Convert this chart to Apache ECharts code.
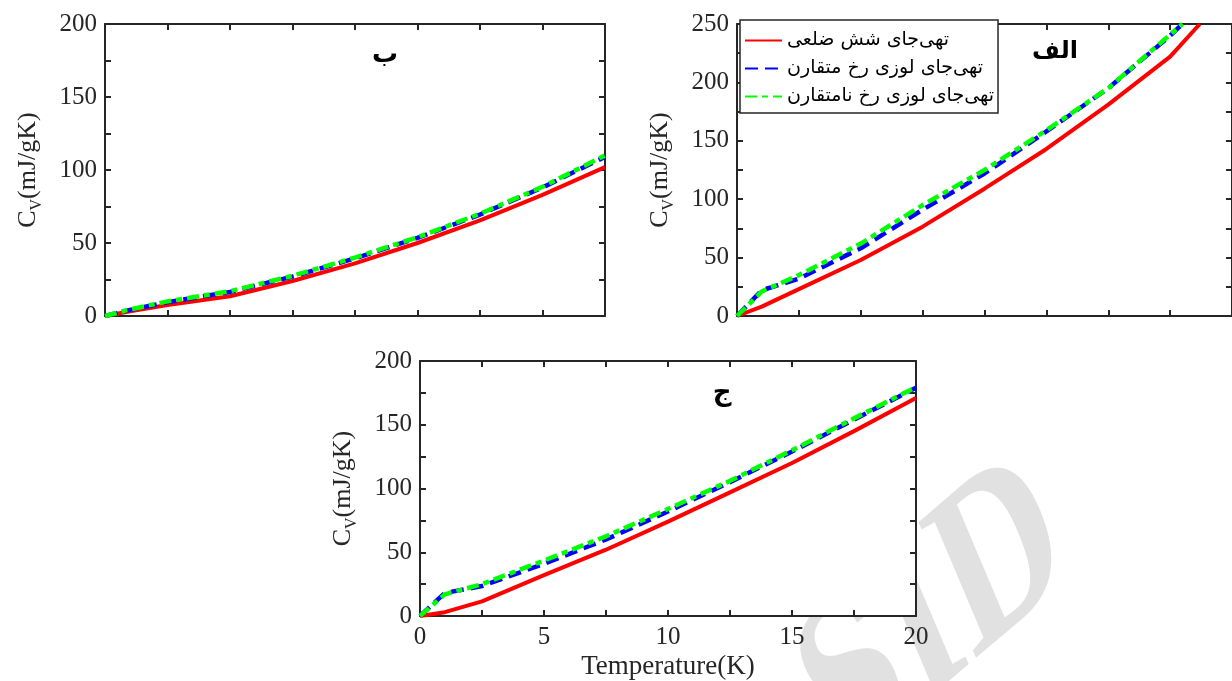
<!DOCTYPE html>
<html><head><meta charset="utf-8">
<script src="https://cdn.jsdelivr.net/npm/echarts@6/dist/echarts.min.js"></script>
<style>html,body{margin:0;padding:0;background:#fff}#c{width:1232px;height:681px}</style>
</head><body><div id="c"></div>
<script>
// ---- data ----
const seriesNames = ['تهی‌جای شش ضلعی', 'تهی‌جای لوزی رخ متقارن', 'تهی‌جای لوزی رخ نامتقارن'];
const panelLabels = ['ب', 'الف', 'ج'];
const xName = 'Temperature(K)';

// panel ب (top-left)
const tB = [0, 1, 2.5, 5, 7.5, 10, 12.5, 15, 17.5, 20];
const redB = [0, 3.2, 7.5, 13.5, 24, 36, 50, 65.5, 83, 102];
const blueB = [0, 4.2, 9.5, 16.5, 27, 39.5, 53.5, 69.5, 88, 109];
const greenB = [0, 4.5, 10, 17, 27.5, 40, 54, 70, 88.5, 110];

// panel الف (top-right)
const tARed = [0, 1, 2.5, 5, 7.5, 10, 12.5, 15, 17.5, 18.7];
const redA = [0, 8, 23, 48, 76.5, 109, 143, 181, 222, 250];
const tADash = [0, 1, 2.5, 5, 7.5, 10, 12.5, 15, 17.5, 18];
const blueA = [0, 22, 32, 58, 91, 122, 158, 195, 240, 250];
const greenA = [0, 21, 35, 62, 95, 125, 159, 195, 241, 250];

// panel ج (bottom)
const tC = [0, 1, 2.5, 5, 7.5, 10, 12.5, 15, 17.5, 20];
const redC = [0, 3, 11.5, 32, 52, 74, 97, 120, 145, 171];
const blueC = [0, 18, 23.5, 41, 60, 82, 105, 129, 154, 179];
const greenC = [0, 17, 25, 43.5, 62.5, 84, 106, 130, 155, 179.5];

const yMaxes = [200, 250, 200];

// ---- build ----
const INK = '#262626';
const SERIF = 'Liberation Serif';
const pair = (t, v) => t.map((x, i) => [x, v[i]]);

const grids = [
  {left: 105, top: 24, width: 500, height: 292},
  {left: 737, top: 24, width: 500, height: 292},
  {left: 420, top: 361, width: 496, height: 257, show: true, backgroundColor: '#fff', borderWidth: 0, z: 1}
];

const lineSt = {show: true, onZero: false, lineStyle: {color: INK, width: 2}};
const tickSt = {show: true, inside: true, length: 6, lineStyle: {color: INK, width: 2}};

const xAxes = [], yAxes = [];
grids.forEach((g, gi) => {
  const base = {
    type: 'value', gridIndex: gi, min: 0, max: 20, interval: 2.5,
    axisLine: lineSt, axisTick: tickSt, splitLine: {show: false}, z: 3
  };
  xAxes.push(Object.assign({}, base, {
    position: 'bottom',
    axisLabel: {show: gi === 2, margin: 9, color: INK, fontFamily: SERIF, fontSize: 25,
      formatter: v => (v % 5 === 0 ? String(v) : '')},
    name: gi === 2 ? xName : '', nameLocation: 'middle', nameGap: 37,
    nameTextStyle: {color: INK, fontFamily: SERIF, fontSize: 27}
  }));
  xAxes.push(Object.assign({}, base, {position: 'top', axisLabel: {show: false}}));
  const ybase = {
    type: 'value', gridIndex: gi, min: 0, max: yMaxes[gi], interval: 25,
    axisLine: lineSt, axisTick: tickSt, splitLine: {show: false}, z: 3
  };
  yAxes.push(Object.assign({}, ybase, {
    position: 'left',
    axisLabel: {show: true, margin: 8, color: INK, fontFamily: SERIF, fontSize: 25,
      formatter: v => (v % 50 === 0 ? String(v) : '')},
    name: 'C{s|V}(mJ/gK)', nameLocation: 'middle', nameGap: 60, nameRotate: 90,
    nameTextStyle: {color: INK, fontFamily: SERIF, fontSize: 26, lineHeight: 33,
      rich: {s: {fontFamily: SERIF, fontSize: 16, lineHeight: 16, color: INK, verticalAlign: 'bottom'}}}
  }));
  yAxes.push(Object.assign({}, ybase, {position: 'right', axisLabel: {show: false}}));
});

const styles = [
  {color: '#ff0000', type: 'solid', width: 4},
  {color: '#0000ff', type: [13, 7], width: 4.5},
  {color: '#00ff00', type: [12, 5, 6, 5], width: 4.5}
];
const panelData = [
  [pair(tB, redB), pair(tB, blueB), pair(tB, greenB)],
  [pair(tARed, redA), pair(tADash, blueA), pair(tADash, greenA)],
  [pair(tC, redC), pair(tC, blueC), pair(tC, greenC)]
];
const series = [];
panelData.forEach((arr, gi) => {
  arr.forEach((d, si) => {
    series.push({
      type: 'line', name: seriesNames[si], data: d,
      xAxisIndex: gi * 2, yAxisIndex: gi * 2,
      showSymbol: false, symbol: 'none', animation: false, clip: true,
      lineStyle: Object.assign({cap: 'butt'}, styles[si]),
      itemStyle: {color: styles[si].color},
      z: 4 + si
    });
  });
});

const chart = echarts.init(document.getElementById('c'), null, {renderer: 'canvas'});
chart.setOption({
  backgroundColor: '#fff',
  animation: false,
  grid: grids,
  xAxis: xAxes,
  yAxis: yAxes,
  series: series,
  legend: {
    data: seriesNames, orient: 'vertical', left: 740, top: 20,
    itemWidth: 37, itemHeight: 14, itemGap: 9,
    padding: [11, 4, 7, 4],
    itemStyle: {opacity: 0},
    backgroundColor: '#fff', borderColor: INK, borderWidth: 1.5,
    textStyle: {fontFamily: 'DejaVu Sans', fontSize: 19, color: '#000'},
    selectedMode: false
  },
  graphic: [
    {type: 'text', x: 935, y: 620, rotation: 0.40, skewY: 0.31, scaleX: 0.79, z: 0, zlevel: 0, silent: true,
      style: {text: 'SID', fontFamily: SERIF, fontWeight: 'bold', fontSize: 225, fill: '#e1e1e1', textAlign: 'center', textVerticalAlign: 'middle'}},
    {type: 'text', x: 385, y: 55, z: 10, style: {text: panelLabels[0], fontFamily: 'DejaVu Sans', fontWeight: 'bold', fontSize: 26, fill: '#000', textAlign: 'center', textVerticalAlign: 'middle'}},
    {type: 'text', x: 1055, y: 52, z: 10, style: {text: panelLabels[1], fontFamily: 'DejaVu Sans', fontWeight: 'bold', fontSize: 24, fill: '#000', textAlign: 'center', textVerticalAlign: 'middle'}},
    {type: 'text', x: 722, y: 393, z: 10, style: {text: panelLabels[2], fontFamily: 'DejaVu Sans', fontWeight: 'bold', fontSize: 26, fill: '#000', textAlign: 'center', textVerticalAlign: 'middle'}}
  ]
});
</script></body></html>
